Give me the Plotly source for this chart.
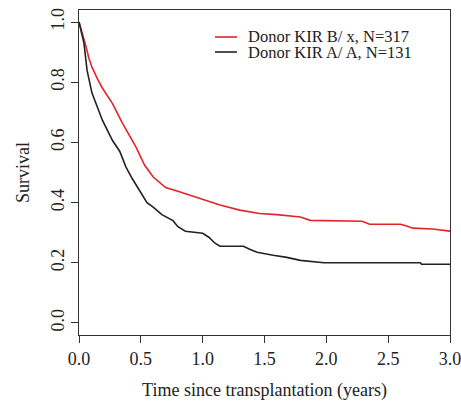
import plotly.graph_objects as go

# Kaplan-Meier style curves
red_time = [0, 0.03, 0.057, 0.08, 0.105, 0.15, 0.19, 0.27, 0.35, 0.46, 0.53, 0.6, 0.7,
            0.8, 0.9, 1.0, 1.14, 1.3, 1.46, 1.6, 1.68, 1.79, 1.87, 1.95, 2.29, 2.35, 2.6,
            2.65, 2.7, 2.86, 2.98, 3.0]
red_surv = [1.0, 0.96, 0.918, 0.88, 0.85, 0.81, 0.78, 0.73, 0.665, 0.585, 0.525, 0.485, 0.45,
            0.438, 0.425, 0.412, 0.392, 0.375, 0.364, 0.36, 0.357, 0.352, 0.341, 0.340,
            0.338, 0.328, 0.328, 0.322, 0.315, 0.312, 0.305, 0.305]

black_time = [0, 0.02, 0.04, 0.065, 0.105, 0.19, 0.27, 0.33, 0.38, 0.43, 0.49, 0.55, 0.6,
              0.67, 0.76, 0.8, 0.86, 1.0, 1.05, 1.1, 1.14, 1.33, 1.38, 1.44, 1.57, 1.68,
              1.79, 1.98, 2.76, 2.77, 3.0]
black_surv = [1.0, 0.96, 0.93, 0.84, 0.764, 0.673, 0.607, 0.57, 0.518, 0.48, 0.44, 0.40,
              0.385, 0.36, 0.34, 0.32, 0.305, 0.298, 0.285, 0.265, 0.255, 0.255, 0.245,
              0.235, 0.225, 0.218, 0.208, 0.2, 0.2, 0.195, 0.195]

series_names = ["Donor KIR B/ x, N=317", "Donor KIR A/ A, N=131"]
series_colors = ["#e3242b", "#222222"]

x_ticks = [0.0, 0.5, 1.0, 1.5, 2.0, 2.5, 3.0]
y_ticks = [0.0, 0.2, 0.4, 0.6, 0.8, 1.0]

FONT = "Liberation Serif, Times New Roman, serif"

fig = go.Figure()
for t, s, name, col in [(red_time, red_surv, series_names[0], series_colors[0]),
                        (black_time, black_surv, series_names[1], series_colors[1])]:
    fig.add_trace(go.Scatter(x=t, y=s, mode="lines", name=name,
                             line=dict(color=col, width=1.6, shape="linear"),
                             showlegend=False, cliponaxis=False))

W, H = 461, 402
L, R, T, B = 79, 11, 10, 67
pw, ph = W - L - R, H - T - B

def px(x):
    return (x - L) / pw

def py(y):
    return (H - B - y) / ph

# manual legend (tight row spacing as in reference)
leg_rows = [37, 52]
for name, col, yy in zip(series_names, series_colors, leg_rows):
    fig.add_shape(type="line", xref="paper", yref="paper",
                  x0=px(215), x1=px(237), y0=py(yy), y1=py(yy),
                  line=dict(color=col, width=1.6))
    fig.add_annotation(xref="paper", yref="paper", x=px(246), y=py(yy),
                       text=name, showarrow=False, xanchor="left", yanchor="middle",
                       font=dict(family=FONT, size=16.5, color="#222"))

axis_common = dict(showgrid=False, zeroline=False, showline=True, mirror=True,
                   linecolor="#333", linewidth=1.2, ticks="outside", ticklen=7,
                   tickcolor="#333", tickwidth=1.2, ticklabeloverflow="allow",
                   tickfont=dict(family=FONT, size=18, color="#222"))

fig.update_layout(
    width=W, height=H,
    margin=dict(l=L, r=R, t=T, b=B, autoexpand=False),
    paper_bgcolor="white", plot_bgcolor="white",
    xaxis=dict(range=[0, 3.0], tickvals=x_ticks,
               ticktext=[f"{v:.1f}" for v in x_ticks],
               title=dict(text="Time since transplantation (years)",
                          font=dict(family=FONT, size=18, color="#222"), standoff=15),
               **axis_common),
    yaxis=dict(range=[-0.04, 1.04], tickvals=y_ticks,
               ticktext=[f"{v:.1f}" for v in y_ticks], tickangle=-90,
               title=dict(text="Survival",
                          font=dict(family=FONT, size=18, color="#222"), standoff=13),
               **axis_common),
)

fig.write_html("out.html", config={"displayModeBar": False},
               post_script="document.body.style.margin='0';")
